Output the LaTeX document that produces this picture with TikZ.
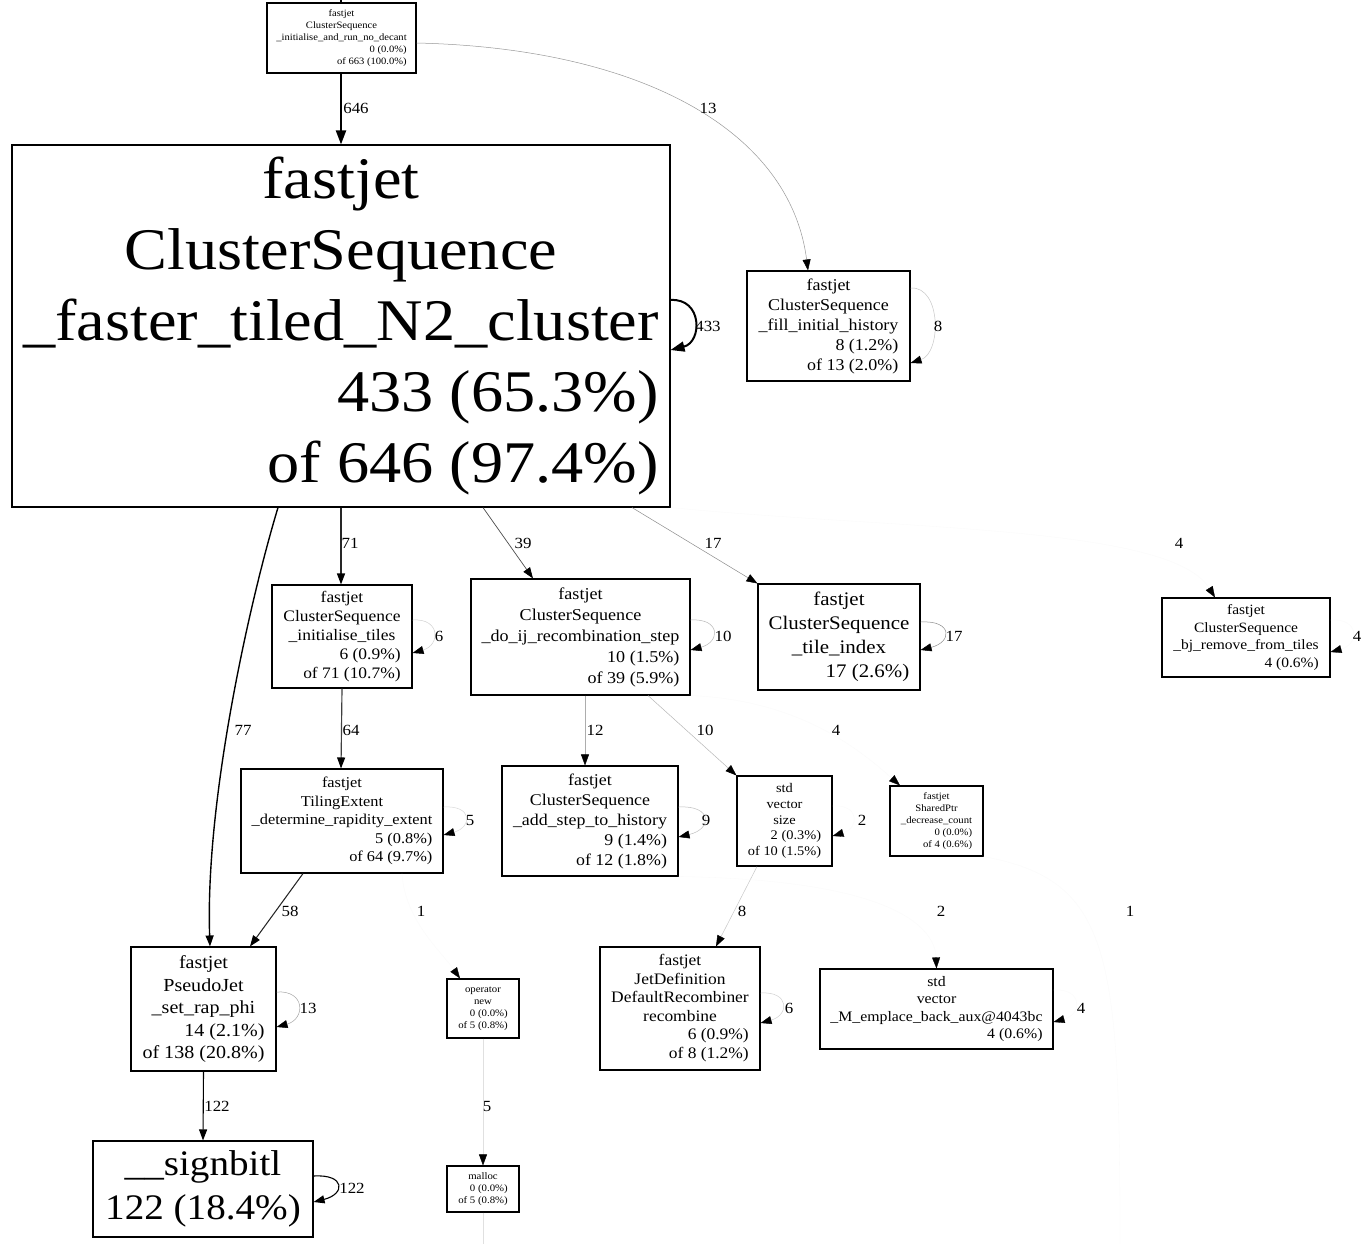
\documentclass[tikz,border=0pt]{standalone}
\usepackage{fontspec}
\setmainfont[FakeStretch=1.09]{Liberation Serif}
\usetikzlibrary{arrows.meta,calc}
\newcommand\gvc[1]{\multicolumn{1}{@{}c@{}}{#1}}
\newcommand\fsz[2]{\fontsize{#1}{#2}\selectfont}
\begin{document}
\begin{tikzpicture}[x=1pt,y=-1pt,
  box/.style={draw=black, line width=1.1pt, inner sep=0pt, anchor=center},
  elab/.style={font=\fsz{15.5}{15.5}, inner sep=0pt, anchor=center},
  ed/.style 2 args={line width=#1, draw=#2, -{Triangle[length=11pt,width=8pt,color=black,fill=black]}},
  edbig/.style={line width=2pt, draw=black, -{Triangle[length=14pt,width=10pt,color=black,fill=black]}},
  ednotip/.style 2 args={line width=#1, draw=#2}
]
\fill[white] (0,0) rectangle (1364,1244);
\useasboundingbox (0,0) rectangle (1364,1244);

% ---------- nodes ----------
\node[box, minimum width=149pt, minimum height=70pt, font=\fsz{9.7}{12}] (top) at (341.5,38)
 {\begin{tabular}{@{}r@{}}\gvc{fastjet}\\\gvc{ClusterSequence}\\\gvc{\_initialise\_and\_run\_no\_decant}\\0 (0.0\%)\\of 663 (100.0\%)\end{tabular}};

\node[box, minimum width=658pt, minimum height=362pt, font=\fsz{59}{71}] (big) at (341,326)
 {\begin{tabular}{@{}r@{}}\gvc{fastjet}\\\gvc{ClusterSequence}\\\gvc{\_faster\_tiled\_N2\_cluster}\\433 (65.3\%)\\of 646 (97.4\%)\end{tabular}};

\node[box, minimum width=163pt, minimum height=110pt, font=\fsz{16.5}{20}] (fill) at (828.5,326)
 {\begin{tabular}{@{}r@{}}\gvc{fastjet}\\\gvc{ClusterSequence}\\\gvc{\_fill\_initial\_history}\\8 (1.2\%)\\of 13 (2.0\%)\end{tabular}};

\node[box, minimum width=140pt, minimum height=103pt, font=\fsz{16}{19}] (init) at (342,636.5)
 {\begin{tabular}{@{}r@{}}\gvc{fastjet}\\\gvc{ClusterSequence}\\\gvc{\_initialise\_tiles}\\6 (0.9\%)\\of 71 (10.7\%)\end{tabular}};

\node[box, minimum width=219pt, minimum height=116pt, font=\fsz{16.6}{21}] (doij) at (580.5,637)
 {\begin{tabular}{@{}r@{}}\gvc{fastjet}\\\gvc{ClusterSequence}\\\gvc{\_do\_ij\_recombination\_step}\\10 (1.5\%)\\of 39 (5.9\%)\end{tabular}};

\node[box, minimum width=162pt, minimum height=106pt, font=\fsz{19.2}{24}] (tile) at (839,637)
 {\begin{tabular}{@{}r@{}}\gvc{fastjet}\\\gvc{ClusterSequence}\\\gvc{\_tile\_index}\\17 (2.6\%)\end{tabular}};

\node[box, minimum width=168pt, minimum height=79pt, font=\fsz{14.2}{17.5}] (bj) at (1246,637.5)
 {\begin{tabular}{@{}r@{}}\gvc{fastjet}\\\gvc{ClusterSequence}\\\gvc{\_bj\_remove\_from\_tiles}\\4 (0.6\%)\end{tabular}};

\node[box, minimum width=202pt, minimum height=104pt, font=\fsz{15}{18.5}] (tiling) at (342,821)
 {\begin{tabular}{@{}r@{}}\gvc{fastjet}\\\gvc{TilingExtent}\\\gvc{\_determine\_rapidity\_extent}\\5 (0.8\%)\\of 64 (9.7\%)\end{tabular}};

\node[box, minimum width=176pt, minimum height=110pt, font=\fsz{16.4}{20}] (addstep) at (590,821)
 {\begin{tabular}{@{}r@{}}\gvc{fastjet}\\\gvc{ClusterSequence}\\\gvc{\_add\_step\_to\_history}\\9 (1.4\%)\\of 12 (1.8\%)\end{tabular}};

\node[box, minimum width=95pt, minimum height=90pt, font=\fsz{13.2}{15.7}] (vsize) at (784.5,821)
 {\begin{tabular}{@{}r@{}}\gvc{std}\\\gvc{vector}\\\gvc{size}\\2 (0.3\%)\\of 10 (1.5\%)\end{tabular}};

\node[box, minimum width=93pt, minimum height=70pt, font=\fsz{9.8}{12}] (shared) at (936.5,821)
 {\begin{tabular}{@{}r@{}}\gvc{fastjet}\\\gvc{SharedPtr}\\\gvc{\_decrease\_count}\\0 (0.0\%)\\of 4 (0.6\%)\end{tabular}};

\node[box, minimum width=145pt, minimum height=124pt, font=\fsz{18.4}{22.5}] (pseudo) at (203.5,1009)
 {\begin{tabular}{@{}r@{}}\gvc{fastjet}\\\gvc{PseudoJet}\\\gvc{\_set\_rap\_phi}\\14 (2.1\%)\\of 138 (20.8\%)\end{tabular}};

\node[box, minimum width=220pt, minimum height=96pt, font=\fsz{35.9}{44}] (signbit) at (203,1189)
 {\begin{tabular}{@{}r@{}}\gvc{\_\_signbitl}\\122 (18.4\%)\end{tabular}};

\node[box, minimum width=72pt, minimum height=59pt, font=\fsz{9.9}{12}] (opnew) at (483,1008.5)
 {\begin{tabular}{@{}r@{}}\gvc{operator}\\\gvc{new}\\0 (0.0\%)\\of 5 (0.8\%)\end{tabular}};

\node[box, minimum width=72pt, minimum height=46pt, font=\fsz{9.9}{11.7}] (malloc) at (483,1189)
 {\begin{tabular}{@{}r@{}}\gvc{malloc}\\0 (0.0\%)\\of 5 (0.8\%)\end{tabular}};

\node[box, minimum width=160pt, minimum height=123pt, font=\fsz{16}{18.5}] (jetdef) at (680,1008.5)
 {\begin{tabular}{@{}r@{}}\gvc{fastjet}\\\gvc{JetDefinition}\\\gvc{DefaultRecombiner}\\\gvc{recombine}\\6 (0.9\%)\\of 8 (1.2\%)\end{tabular}};

\node[box, minimum width=233pt, minimum height=80pt, font=\fsz{14.5}{17.5}] (emplace) at (936.5,1009)
 {\begin{tabular}{@{}r@{}}\gvc{std}\\\gvc{vector}\\\gvc{\_M\_emplace\_back\_aux@4043bc}\\4 (0.6\%)\end{tabular}};

\coordinate (topin) at (341,0);
\coordinate (mallocout) at (483,1244);
\coordinate (rone) at (1120,1244);

% ---------- edges ----------
\draw[line width=2.5pt, draw=black] (topin) -- ([xshift=-0.5pt]top.north);
\draw[edbig] ([xshift=-0.5pt]top.south) -- (big.north);
\draw[ed={0.5pt}{black!40}] ([yshift=-5pt]top.east) .. controls (640,48) and (790,130) .. ([xshift=-20.5pt]fill.north);
\draw[edbig] ([yshift=26pt]big.east) .. controls +(32,-2) and +(32,-8) .. ([yshift=-24pt]big.east);
\draw[ed={0.5pt}{black!22}] ([yshift=38pt]fill.east) .. controls +(31,-2) and +(31,-10) .. ([yshift=-37pt]fill.east);

\draw[ed={1.28pt}{black!85}] (big.south) -- ([xshift=-1pt]init.north);
\draw[ed={0.7pt}{black!70}] ([xshift=142pt]big.south) -- ([xshift=-47.5pt]doij.north);
\draw[ed={0.5pt}{black!45}] ([xshift=291pt]big.south) -- (tile.north west);
\draw[ed={0.3pt}{black!2}] (big.south east) .. controls (900,530) and (1170,525) .. ([xshift=-31pt]bj.north);
\draw[ed={1.39pt}{black}] ([xshift=-63pt]big.south) .. controls (250,600) and (205,800) .. ([xshift=6.5pt]pseudo.north);

\draw[ed={0.5pt}{black!18}] ([yshift=16.5pt]init.east) .. controls +(28,-2) and +(28,-8) .. ([yshift=-16.5pt]init.east);
\draw[ed={0.5pt}{black!28}] ([yshift=17pt]doij.east) .. controls +(30,-2) and +(30,-8) .. ([yshift=-13pt]doij.east);
\draw[ed={0.5pt}{black!45}] ([yshift=15pt]tile.east) .. controls +(32,-2) and +(32,-8) .. ([yshift=-13pt]tile.east);
\draw[ed={0.3pt}{black!2}] ([yshift=17.5pt]bj.east) .. controls +(29,-2) and +(29,-8) .. ([yshift=-14.5pt]bj.east);

\draw[ed={1.16pt}{black!75}] (init.south) -- ([xshift=-1pt]tiling.north);
\draw[ed={0.5pt}{black!32}] ([xshift=4.5pt]doij.south) -- ([xshift=-5pt]addstep.north);
\draw[ed={0.5pt}{black!28}] ([xshift=67.5pt]doij.south) -- (vsize.north west);
\draw[ed={0.3pt}{black!2}] (doij.south east) .. controls (800,700) and (860,750) .. ([xshift=-36.5pt]shared.north);

\draw[ed={0.5pt}{black!15}] ([yshift=14pt]tiling.east) .. controls +(29,-2) and +(29,-8) .. ([yshift=-14pt]tiling.east);
\draw[ed={0.5pt}{black!25}] ([yshift=14pt]addstep.east) .. controls +(34,-2) and +(34,-8) .. ([yshift=-16pt]addstep.east);
\draw[ed={0.3pt}{black!2}] ([yshift=15pt]vsize.east) .. controls +(27,-2) and +(27,-8) .. ([yshift=-15pt]vsize.east);

\draw[ed={1.05pt}{black!85}] ([xshift=-39pt]tiling.south) -- ([xshift=46.5pt]pseudo.north);
\draw[ed={0.3pt}{black!2}] ([xshift=60pt]tiling.south) .. controls (405,920) and (440,950) .. ([xshift=-23pt]opnew.north);
\draw[ed={0.5pt}{black!22}] ([xshift=-27.5pt]vsize.south) -- ([xshift=36pt]jetdef.north);
\draw[ed={0.3pt}{black!2}] (addstep.south east) .. controls (900,880) and (935,930) .. (emplace.north);
\draw[ednotip={0.3pt}{black!2}] (shared.south east) .. controls (1110,880) and (1120,950) .. (rone);

\draw[ed={0.5pt}{black!35}] ([yshift=17pt]pseudo.east) .. controls +(29,-2) and +(29,-8) .. ([yshift=-18pt]pseudo.east);
\draw[ed={0.5pt}{black!18}] ([yshift=15.5pt]jetdef.east) .. controls +(29,-2) and +(29,-8) .. ([yshift=-14.5pt]jetdef.east);
\draw[ed={0.3pt}{black!2}] ([yshift=19pt]emplace.east) .. controls +(29,-2) and +(29,-8) .. ([yshift=-13pt]emplace.east);

\draw[ed={1.1pt}{black}] (pseudo.south) -- (signbit.north);
\draw[ed={1.1pt}{black}] ([yshift=13pt]signbit.east) .. controls +(32,-2) and +(32,-8) .. ([yshift=-13pt]signbit.east);
\draw[ed={0.5pt}{black!12}] (opnew.south) -- (malloc.north);
\draw[ednotip={0.5pt}{black!12}] (malloc.south) -- (mallocout);

% ---------- edge labels ----------
\node[elab] (l646) at (356,108) {646};
\node[elab] (l13a) at (708,108) {13};
\node[elab] (l433) at (708,326) {433};
\node[elab] (l8a) at (938,326) {8};
\node[elab] (l71) at (350,543) {71};
\node[elab] (l39) at (523,543) {39};
\node[elab] (l17a) at (713,543) {17};
\node[elab] (l4a) at (1179,543) {4};
\node[elab] (l6a) at (439,636) {6};
\node[elab] (l10a) at (723,636) {10};
\node[elab] (l17b) at (954,636) {17};
\node[elab] (l4b) at (1357,636) {4};
\node[elab] (l77) at (243,730) {77};
\node[elab] (l64) at (351,730) {64};
\node[elab] (l12) at (595,730) {12};
\node[elab] (l10b) at (705,730) {10};
\node[elab] (l4c) at (836,730) {4};
\node[elab] (l5a) at (470,820) {5};
\node[elab] (l9) at (706,820) {9};
\node[elab] (l2a) at (862,820) {2};
\node[elab] (l58) at (290,911) {58};
\node[elab] (l1a) at (421,911) {1};
\node[elab] (l8b) at (742,911) {8};
\node[elab] (l2b) at (941,911) {2};
\node[elab] (l1b) at (1130,911) {1};
\node[elab] (l13b) at (308,1008) {13};
\node[elab] (l6b) at (789,1008) {6};
\node[elab] (l4d) at (1081,1008) {4};
\node[elab] (l122a) at (217,1106) {122};
\node[elab] (l5b) at (487,1106) {5};
\node[elab] (l122b) at (352,1188) {122};
\end{tikzpicture}
\end{document}
